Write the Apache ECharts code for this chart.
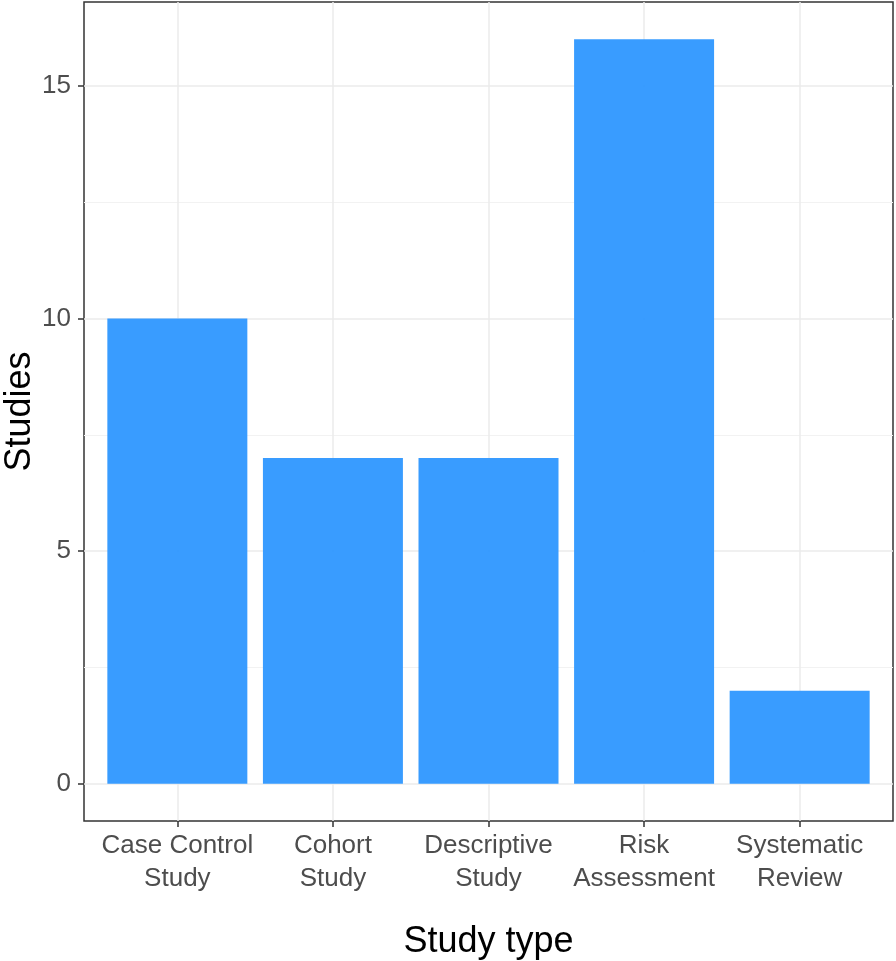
<!DOCTYPE html>
<html><head><meta charset="utf-8">
<script src="https://cdn.jsdelivr.net/npm/echarts@6/dist/echarts.min.js"></script>
<style>html,body{margin:0;padding:0;background:#fff}#c{width:896px;height:961px}</style>
</head><body><div id="c"></div>
<script>
const categories = ["Case Control\nStudy", "Cohort\nStudy", "Descriptive\nStudy", "Risk\nAssessment", "Systematic\nReview"];
const studies = [10, 7, 7, 16, 2];
const yTicks = [0, 5, 10, 15];
const yMinor = [2.5, 7.5, 12.5];
const xPositions = [1, 2, 3, 4, 5];

const chart = echarts.init(document.getElementById('c'));
const font = 'Liberation Sans, Arial, sans-serif';
chart.setOption({
  animation: false,
  grid: { left: 84, top: 2, right: 3, bottom: 140, show: true, borderColor: '#333', borderWidth: 1.5, containLabel: false, outerBoundsMode: 'none' },
  xAxis: {
    type: 'value', min: 0.4, max: 5.6,
    axisLine: { show: false, onZero: false },
    axisTick: { show: true, inside: false, customValues: xPositions, length: 6, lineStyle: { color: '#333', width: 1.5 } },
    axisLabel: { customValues: xPositions, formatter: v => categories[Math.round(v) - 1] || '', color: '#4d4d4d', fontSize: 26, fontFamily: font, lineHeight: 33, margin: 8 },
    splitLine: { show: true, lineStyle: { color: '#ebebeb', width: 1.5 } },
    name: 'Study type', nameLocation: 'middle', nameGap: 103, nameMoveOverlap: false,
    nameTextStyle: { color: '#000', fontSize: 36, fontFamily: font }
  },
  yAxis: [{
    type: 'value', min: -0.8, max: 16.8,
    axisLine: { show: false, onZero: false },
    axisTick: { show: true, inside: false, customValues: yTicks, length: 6, lineStyle: { color: '#333', width: 1.5 } },
    axisLabel: { customValues: yTicks, color: '#4d4d4d', fontSize: 26, fontFamily: font, margin: 13 },
    splitLine: { show: true, lineStyle: { color: '#ebebeb', width: 1.5 } },
    name: 'Studies', nameLocation: 'middle', nameGap: 46, nameRotate: 90, nameMoveOverlap: false,
    nameTextStyle: { color: '#000', fontSize: 36, fontFamily: font }
  }, {
    type: 'value', min: -0.8, max: 16.8, position: 'left',
    axisLine: { show: false, onZero: false }, axisTick: { show: false, customValues: yMinor },
    axisLabel: { show: false, customValues: yMinor },
    splitLine: { show: true, lineStyle: { color: '#f2f2f2', width: 1 } }
  }],
  series: [{
    type: 'bar', yAxisIndex: 0,
    data: xPositions.map((x, i) => [x, studies[i]]),
    barWidth: 140,
    itemStyle: { color: '#3399ff', opacity: 0.97 },
    z: 3
  }]
});
</script></body></html>
